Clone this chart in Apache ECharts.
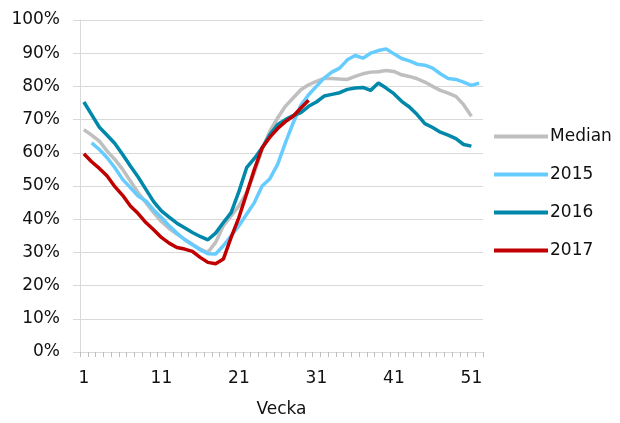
<!DOCTYPE html>
<html>
<head>
<meta charset="utf-8">
<script src="https://cdn.jsdelivr.net/npm/echarts@6/dist/echarts.min.js"></script>
<style>
  html, body { margin: 0; padding: 0; background: #fff; }
  #chart { width: 620px; height: 423px; }
</style>
</head>
<body>
<div id="chart"></div>
<script>
const weeks = ['1', '2', '3', '4', '5', '6', '7', '8', '9', '10', '11', '12', '13', '14', '15', '16', '17', '18', '19', '20',
  '21', '22', '23', '24', '25', '26', '27', '28', '29', '30', '31', '32', '33', '34', '35', '36', '37', '38', '39', '40',
  '41', '42', '43', '44', '45', '46', '47', '48', '49', '50', '51', '52'];

const median = [67, 65.3, 63.5, 60.5, 58, 55, 51.5, 48, 45, 42, 39.3, 37.2, 35.5, 34, 32.5, 31, 30, 33, 38, 41,
  44, 48, 54, 61, 66.5, 70.5, 74, 76.5, 79, 80.5, 81.5, 82.4, 82.4, 82.2, 82.1, 83, 83.8, 84.3, 84.4, 84.8,
  84.5, 83.5, 83, 82.3, 81.3, 80, 78.8, 78, 77, 74.5, 71];

const y2015 = [null, 63, 61, 58.5, 55.5, 52, 49.5, 47, 45.5, 42.8, 40.5, 38, 35.8, 33.8, 32.3, 30.8, 29.6, 29.5, 32, 35,
  38, 41.5, 45, 50, 52.2, 56.5, 63, 69, 74.3, 77.5, 80, 82.5, 84.3, 85.5, 88, 89.3, 88.5, 90, 90.8, 91.3,
  89.8, 88.4, 87.7, 86.7, 86.4, 85.5, 83.8, 82.4, 82.1, 81.3, 80.3, 81];

const y2016 = [75.3, 71.5, 67.7, 65.3, 62.8, 59.5, 56, 52.7, 49, 45.3, 42.5, 40.6, 38.8, 37.4, 36, 34.8, 33.8, 35.8, 39, 42,
  48.3, 55.5, 58.3, 61.5, 65.5, 68.5, 70, 71.2, 72.1, 74, 75.3, 77.1, 77.6, 78.1, 79.1, 79.5, 79.7, 78.8, 81, 79.5,
  77.8, 75.5, 73.8, 71.5, 68.8, 67.6, 66.2, 65.3, 64.3, 62.5, 62];

const y2017 = [59.7, 57.3, 55.3, 53, 49.8, 47.2, 44, 41.7, 39, 36.8, 34.5, 32.8, 31.5, 31, 30.3, 28.5, 27, 26.6, 28, 34.5,
  40.5, 47.7, 55, 61.5, 64.7, 67.3, 69.4, 71, 73.5, 75.8];

const names = ['Median', '2015', '2016', '2017'];
const colors = ['#BFBFBF', '#66CCFF', '#0088AA', '#C00000'];

const font = 'DejaVu Sans';
const chart = echarts.init(document.getElementById('chart'));

const line = (name, data, i) => ({
  name,
  type: 'line',
  data,
  symbol: 'none',
  connectNulls: false,
  lineStyle: { width: 3.5, color: colors[i] },
  itemStyle: { color: colors[i] },
});

chart.setOption({
  animation: false,
  color: colors,
  textStyle: { fontFamily: font },
  grid: { left: 80, right: 137, top: 20, bottom: 69 },
  legend: {
    orient: 'vertical',
    left: 489,
    top: 123,
    itemWidth: 54,
    itemHeight: 4,
    itemGap: 21,
    icon: 'rect',
    data: names,
    textStyle: { fontFamily: font, fontSize: 17, color: '#111', padding: [0, 0, 0, -3] },
  },
  xAxis: {
    type: 'category',
    data: weeks,
    boundaryGap: true,
    name: 'Vecka',
    nameLocation: 'middle',
    nameGap: 49,
    nameTextStyle: { fontFamily: font, fontSize: 17, color: '#111' },
    axisLine: { lineStyle: { color: '#D9D9D9', width: 1 } },
    axisTick: { show: true, interval: 0, length: 5, lineStyle: { color: '#BFBFBF' } },
    axisLabel: { interval: 9, margin: 18, fontFamily: font, fontSize: 17, color: '#111' },
    splitLine: { show: false },
  },
  yAxis: {
    type: 'value',
    min: 0,
    max: 100,
    interval: 10,
    axisLine: { show: true, lineStyle: { color: '#D9D9D9', width: 1 } },
    axisTick: { show: true, length: 7, lineStyle: { color: '#D9D9D9' } },
    axisLabel: { formatter: '{value}%', margin: 20, fontFamily: font, fontSize: 17, color: '#111' },
    splitLine: { lineStyle: { color: '#D9D9D9', width: 1 } },
  },
  series: [
    line('Median', median, 0),
    line('2015', y2015, 1),
    line('2016', y2016, 2),
    line('2017', y2017, 3),
  ],
});
</script>
</body>
</html>
